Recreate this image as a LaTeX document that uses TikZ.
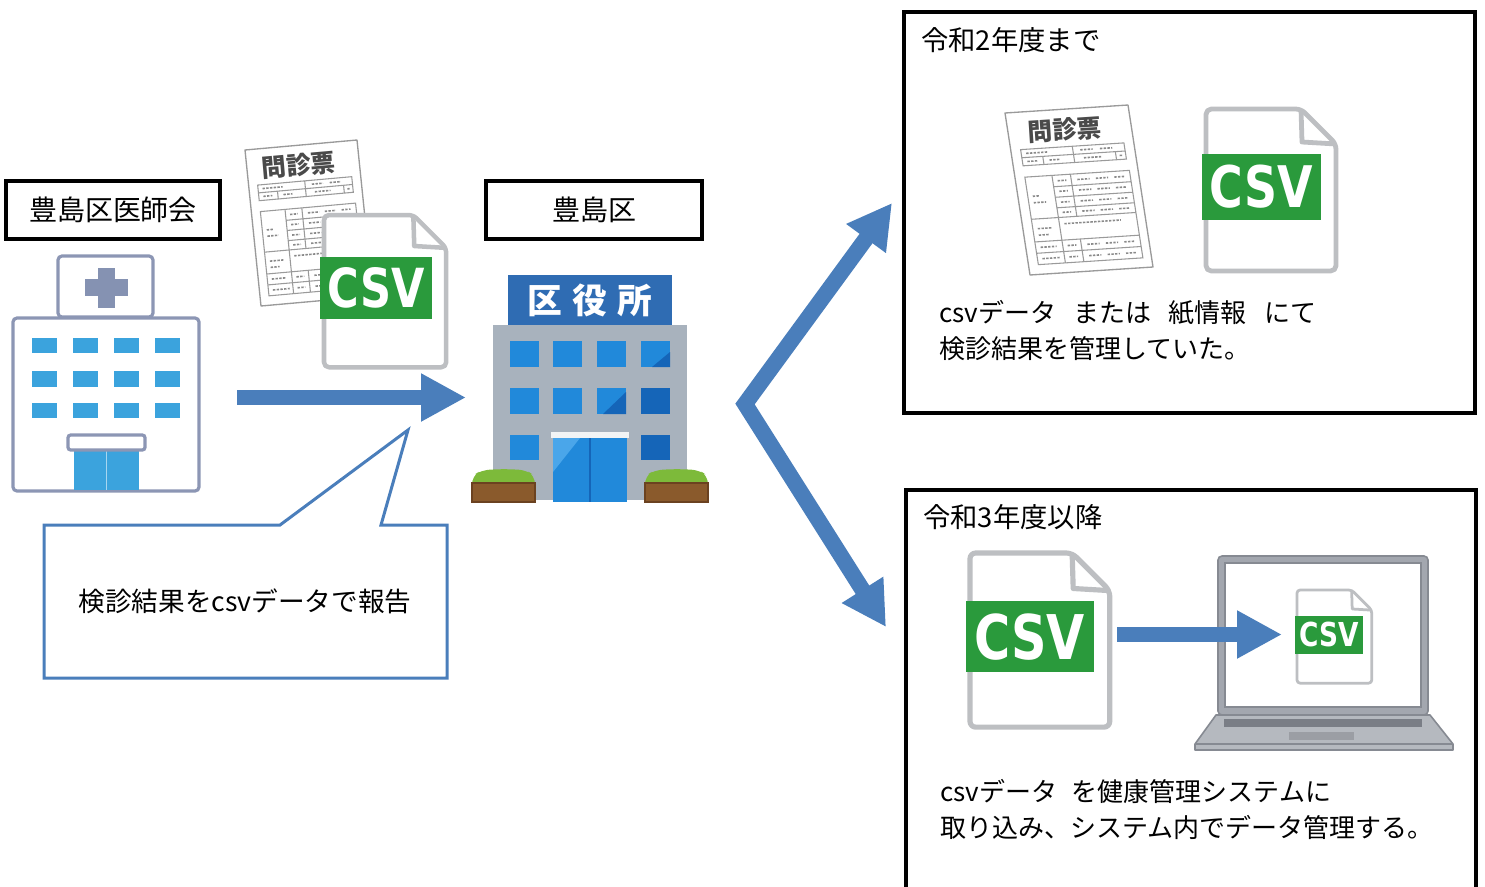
\documentclass[tikz,border=0pt]{standalone}
\usepackage{fontspec}
\setmainfont{Noto Sans CJK JP}
\newfontfamily\csvfont{DejaVu Sans}
\usetikzlibrary{arrows.meta}

\definecolor{arrowblue}{HTML}{4A7EBB}
\definecolor{csvgreen}{HTML}{2A9A3C}
\definecolor{docgray}{HTML}{BDBFC2}
\definecolor{hospline}{HTML}{8C96B4}
\definecolor{hospcross}{HTML}{8592B2}
\definecolor{hospwin}{HTML}{3BA3DD}
\definecolor{hallsign}{HTML}{2F6CB3}
\definecolor{hallwall}{HTML}{A8B2BD}
\definecolor{hallwin}{HTML}{2189DA}
\definecolor{hallwindark}{HTML}{1565B8}
\definecolor{hallwinlight}{HTML}{4AA6EA}
\definecolor{bushgreen}{HTML}{7DBA3A}
\definecolor{soil}{HTML}{8A5A2C}
\definecolor{soilline}{HTML}{6B4220}
\definecolor{papergray}{HTML}{9A9A9A}
\definecolor{paperink}{HTML}{8A8A8A}
\definecolor{papertitle}{HTML}{4A4A4A}
\definecolor{laptopframe}{HTML}{A3A7AF}
\definecolor{laptopline}{HTML}{868A92}
\definecolor{laptopkey}{HTML}{7A7E86}

% file icon with a green CSV band; #1 name, (#2,#3) top-left corner, #4 scale
\newcommand\csvdoc[4]{%
  \begin{scope}[shift={(#2,#3)}, scale=#4]
    \draw[docgray, line width={3.6pt*#4}, fill=white, rounded corners={4pt*#4}, line join=round]
      (0,0) -- (95,0) -- (130,35) -- (130,162) -- (0,162) -- cycle;
    \draw[docgray, line width={3.6pt*#4}, line join=round]
      (95,0) -- (96,33) -- (130,35);
    \fill[csvgreen] (-4,45) rectangle (115,111);
    \node[csvlabel] (#1) at (55.5,78) {CSV};
  \end{scope}}

% cell box in the slanted sheet frame (a plain rectangle would stay axis-aligned)
\newcommand\cellbox[4]{\draw (#1,#2) -- (#3,#2) -- (#3,#4) -- (#1,#4) -- cycle;}

% slanted questionnaire sheet; #1 name, (#2,#3) top-left corner,
% #4 top edge vector, #5 left edge vector (canvas units), #6 title angle
\newcommand\monshin[6]{%
  \begin{scope}[shift={(#2,#3)}, x={#4}, y={#5}]
    \draw[papergray, line width=1pt, fill=white, line join=round] (0,0) -- (1,0) -- (1,1) -- (0,1) -- cycle;
    \node[sheettitle, rotate=#6] (#1) at (0.46,0.125) {問診票};
    \begin{scope}[papergray, line width=0.8pt]
      \cellbox{0.08}{0.23}{0.92}{0.33}
      \draw (0.08,0.28) -- (0.92,0.28);
      \draw (0.50,0.23) -- (0.50,0.33);
      \draw (0.84,0.28) -- (0.84,0.33);
      \draw (0.25,0.28) -- (0.25,0.33);
      \cellbox{0.08}{0.40}{0.93}{0.94}
      \draw (0.30,0.40) -- (0.30,0.94);
      \draw (0.45,0.40) -- (0.45,0.66);
      \draw (0.45,0.80) -- (0.45,0.94);
      \foreach \v in {0.47,0.535,0.60} \draw (0.30,\v) -- (0.93,\v);
      \foreach \v in {0.66,0.80,0.87} \draw (0.08,\v) -- (0.93,\v);
    \end{scope}
    \begin{scope}[scribble]
      \draw (0.12,0.255) -- (0.30,0.255); \draw (0.56,0.255) -- (0.66,0.255); \draw (0.72,0.255) -- (0.82,0.255);
      \draw (0.12,0.305) -- (0.20,0.305); \draw (0.30,0.305) -- (0.38,0.305); \draw (0.58,0.305) -- (0.72,0.305); \draw (0.87,0.305) -- (0.89,0.305);
      \draw (0.12,0.52) -- (0.18,0.52); \draw (0.12,0.56) -- (0.22,0.56);
      \draw (0.12,0.72) -- (0.24,0.72); \draw (0.12,0.76) -- (0.20,0.76);
      \draw (0.12,0.835) -- (0.25,0.835); \draw (0.12,0.905) -- (0.27,0.905);
      \foreach \v in {0.435,0.50,0.567,0.63,0.835,0.905} {
        \draw (0.34,\v) -- (0.41,\v);
        \draw (0.50,\v) -- (0.60,\v); \draw (0.65,\v) -- (0.75,\v); \draw (0.80,\v) -- (0.88,\v);}
      \draw (0.34,0.70) -- (0.80,0.70);
    \end{scope}
  \end{scope}}

\begin{document}
\begin{tikzpicture}[x=0.75pt, y=-0.75pt,
  labelbox/.style={draw=black, line width=3pt, minimum height=43.5pt, inner sep=0pt,
    font=\fontsize{21pt}{24pt}\selectfont},
  frame/.style={draw=black, line width=3pt},
  eralabel/.style={inner sep=0pt, anchor=west, font=\fontsize{20.5pt}{24pt}\selectfont},
  bodytext/.style={inner sep=0pt, anchor=west, align=left,
    font=\fontsize{19.5pt}{27pt}\selectfont},
  csvlabel/.style={text=white, inner sep=0pt, xscale=0.8, transform shape,
    font=\csvfont\bfseries\fontsize{43pt}{43pt}\selectfont},
  sheettitle/.style={text=papertitle, inner sep=0pt,
    font=\bfseries\fontsize{18.5pt}{20pt}\selectfont},
  scribble/.style={draw=paperink, line width=1.2pt, dash pattern=on 1.8pt off 1pt},
  halltext/.style={text=white, inner sep=0pt, font=\bfseries\fontsize{26pt}{28pt}\selectfont},
  flowarrow/.style={draw=arrowblue, line width=11.25pt,
    -{Triangle[length=33.75pt, width=33.75pt]}},
  splitarrow/.style={draw=arrowblue, line width=12pt, line join=miter,
    {Triangle[length=33pt, width=34.5pt]}-{Triangle[length=33pt, width=34.5pt]}},
  ]
\useasboundingbox (0,0) rectangle (1485,886);

% ---------------- labels above the two parties
\node[labelbox, minimum width=160.5pt] (ishikai) at (113,210) {豊島区医師会};
\node[labelbox, minimum width=162pt] (toshima) at (594,210) {豊島区};

% ---------------- hospital
\draw[hospline, line width=2.4pt, fill=white, rounded corners=3pt] (58,256) rectangle (153,317);
\fill[hospcross] (98,268) rectangle (115,308);
\fill[hospcross] (85,279) rectangle (128,296);
\draw[hospline, line width=2.4pt, fill=white, rounded corners=3pt] (13,318) rectangle (199,491);
\foreach \xa in {32,73,114,155}
  \foreach \ya/\yb in {338/353,371/387,403/418}
    \fill[hospwin] (\xa,\ya) rectangle (\xa+25,\yb);
\fill[hospwin] (74,450) rectangle (139,489.5);
\draw[hospwin!45!white, line width=1pt] (106.5,450) -- (106.5,489.5);
\draw[hospline, line width=2.4pt, fill=white, rounded corners=2pt] (68,435) rectangle (145,450);

% ---------------- questionnaire and CSV file handed over
\monshin{sheetA}{245}{150}{(84pt,7.5pt)}{(12pt,-117pt)}{5}
\csvdoc{csvA}{324}{215}{0.94}

% ---------------- ward office
\fill[hallsign] (508,275) rectangle (672,325);
\node[halltext] (kuyakusho) at (590,300) {区\hspace{8pt}役\hspace{8pt}所};
\fill[hallwall] (493,325) rectangle (687,500);
\foreach \xa in {510,553,597,641}
  \foreach \ya in {341,388}
    \fill[hallwin] (\xa,\ya) rectangle (\xa+29,\ya+26);
\fill[hallwin] (510,435) rectangle (539,460);
\fill[hallwindark] (641,388) rectangle (670,414);
\fill[hallwindark] (641,435) rectangle (670,460);
\fill[hallwindark] (670,352) -- (670,367) -- (652,367) -- cycle;
\fill[hallwindark] (626,392) -- (626,414) -- (603,414) -- cycle;
\fill[hallwin] (553,438) rectangle (627,502);
\fill[hallwinlight] (553,438) -- (580,438) -- (553,472) -- cycle;
\draw[hallwindark, line width=1.5pt] (590,438) -- (590,502);
\fill[white!85!hallwall] (551,432) rectangle (629,438);
\foreach \xb in {472,645} {
  \fill[bushgreen, rounded corners=6pt] (\xb,490) -- (\xb,476) -- (\xb+10,470) -- (\xb+32,469)
    -- (\xb+54,470) -- (\xb+63,476) -- (\xb+63,490) -- cycle;
  \draw[soilline, line width=0.8pt, fill=soil] (\xb,483) rectangle (\xb+63,502);}

% ---------------- report arrow and callout
\coordinate (repFrom) at (237,397.5);
\coordinate (repTo) at (466,397.5);
\draw[flowarrow] (repFrom) -- (repTo);
\draw[arrowblue, line width=2.25pt, line join=miter, fill=white]
  (44,525) -- (280,525) -- (408,430) -- (381,525) -- (447,525) -- (447,678) -- (44,678) -- cycle;
\node[inner sep=0pt, font=\fontsize{20pt}{24pt}\selectfont] (report) at (245,601) {検診結果をcsvデータで報告};

% ---------------- split arrow towards the two periods
\coordinate (splitTop) at (892,203);
\coordinate (splitMid) at (745,404);
\coordinate (splitBot) at (886,627);
\draw[splitarrow] (splitTop) -- (splitMid) -- (splitBot);

% ---------------- until Reiwa 2
\draw[frame] (903.5,11.5) rectangle (1474.5,412.5);
\node[eralabel] (era2) at (921,40) {令和2年度まで};
\monshin{sheetB}{1005}{113}{(92.25pt,6pt)}{(18.75pt,-121.5pt)}{3.7}
\csvdoc{csvB}{1206}{109}{1}
\node[bodytext] (era2text) at (939,331)
  {csvデータ\hspace{13pt}または\hspace{13pt}紙情報\hspace{13pt}にて\\検診結果を管理していた。};

% ---------------- from Reiwa 3
\draw[frame] (905.5,892) -- (905.5,489.5) -- (1476,489.5) -- (1476,892);
\node[eralabel] (era3) at (923,517) {令和3年度以降};
\csvdoc{csvC}{970}{553}{1.075}
% laptop
\draw[laptopline, line width=1.2pt, fill=laptopframe, rounded corners=3pt] (1218,556) rectangle (1428,715);
\draw[laptopline, line width=1pt, fill=white] (1225,563) rectangle (1421,707);
\draw[laptopline, line width=1.2pt, fill=laptopframe!80!white, line join=round]
  (1216,715) -- (1430,715) -- (1453,744) -- (1453,750) -- (1195,750) -- (1195,744) -- cycle;
\draw[laptopline, line width=1pt] (1195,744) -- (1453,744);
\fill[laptopkey] (1224,719) rectangle (1422,727);
\fill[laptopkey!75!white] (1289,732) rectangle (1354,740);
\csvdoc{csvD}{1297}{590}{0.575}
\coordinate (importFrom) at (1117,634.5);
\coordinate (importTo) at (1282,634.5);
\draw[flowarrow] (importFrom) -- (importTo);
\node[bodytext] (era3text) at (940,809.5)
  {csvデータ\hspace{11pt}を健康管理システムに\\取り込み、システム内でデータ管理する。};
\end{tikzpicture}
\end{document}
